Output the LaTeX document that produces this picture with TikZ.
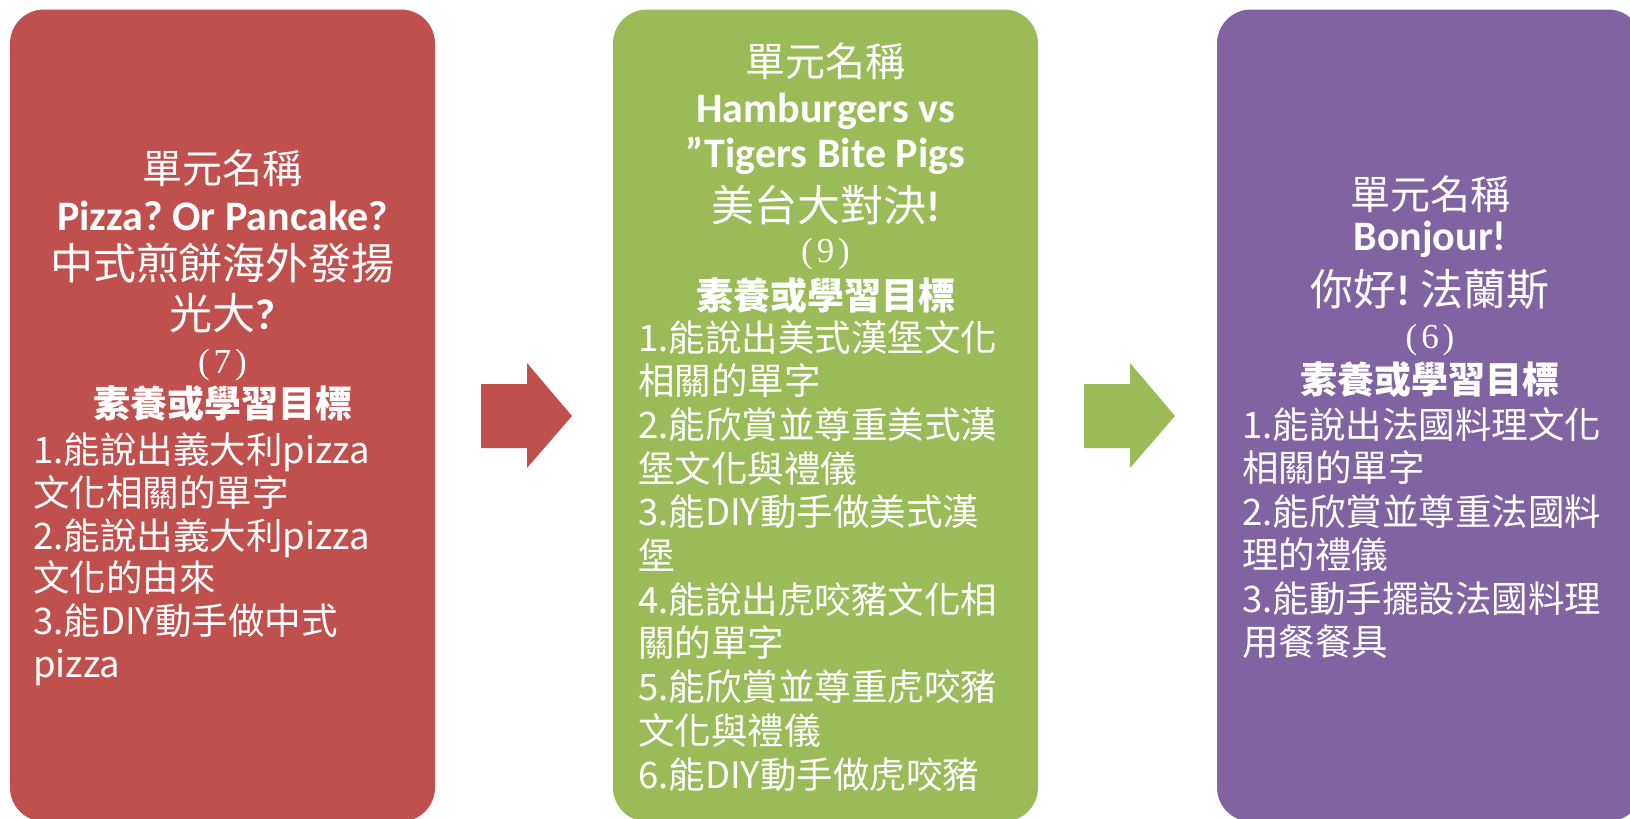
\documentclass[tikz,border=0pt]{standalone}
\usepackage{fontspec}
\newfontfamily\cjk{Noto Sans CJK TC}
\newfontfamily\calfont{Carlito}
\newfontfamily\numfont{Liberation Serif}
\definecolor{cred}{HTML}{C0504D}
\definecolor{cgreen}{HTML}{9BBB59}
\definecolor{cpurple}{HTML}{8064A2}
\frenchspacing
\tikzset{
  box/.style={rectangle, rounded corners=34pt, inner sep=0pt, minimum width=425pt, minimum height=812pt},
  base/.style={text=white, inner sep=0pt, anchor=base},
  head/.style={base, font=\cjk\fontsize{40}{40}\selectfont},
  ttl/.style={base, font=\calfont\bfseries\fontsize{42}{42}\selectfont},
  cjt/.style={base, font=\cjk\fontsize{43}{43}\selectfont},
  num/.style={base, font=\numfont\fontsize{35}{35}\selectfont},
  goal/.style={base, font=\cjk\bfseries\fontsize{37}{37}\selectfont},
  item/.style={text=white, inner sep=0pt, anchor=base west, font=\cjk\fontsize{36.5}{36.5}\selectfont}
}
\newcommand{\qm}[1]{{\calfont\bfseries #1}}
\newcommand{\pn}[1]{(\kern4pt#1\kern4pt)}
\begin{document}
\begin{tikzpicture}[x=1pt,y=-1pt]
\useasboundingbox (0,0) rectangle (1630,819);
\clip (0,0) rectangle (1630,819);
% boxes
\node[box, fill=cred] (b1) at (222.5,415.5) {};
\node[box, fill=cgreen] (b2) at (825.5,415.5) {};
\node[box, fill=cpurple] (b3) at (1429.5,415.5) {};
% arrows
\fill[cred] (481,384) -- (527,384) -- (527,363) -- (572,416) -- (527,468) -- (527,448) -- (481,448) -- cycle;
\fill[cgreen] (1084,384) -- (1130,384) -- (1130,363) -- (1175,416) -- (1130,468) -- (1130,448) -- (1084,448) -- cycle;
% box 1
\node[head] (h1) at (222.5,183) {單元名稱};
\node[ttl] (t1a) at (222.5,230) {Pizza? Or Pancake?};
\node[cjt] (t1b) at (222.5,279) {中式煎餅海外發揚};
\node[cjt] (t1c) at (222.5,329) {光大\qm{?}};
\node[num] (n1) at (222.5,373) {\pn{7}};
\node[goal] (g1) at (222.5,417) {素養或學習目標};
\node[item] (i1a) at (33,463) {1.能說出義大利pizza};
\node[item] (i1b) at (33,506) {文化相關的單字};
\node[item] (i1c) at (33,549) {2.能說出義大利pizza};
\node[item] (i1d) at (33,591) {文化的由來};
\node[item] (i1e) at (33,634) {3.能DIY動手做中式};
\node[item] (i1f) at (33,677) {pizza};
% box 2
\node[head] (h2) at (825.5,76) {單元名稱};
\node[ttl] (t2a) at (825.5,122) {Hamburgers vs};
\node[ttl] (t2b) at (825.5,167) {”Tigers Bite Pigs};
\node[cjt] (t2c) at (825.5,221) {美台大對決\qm{!}};
\node[num] (n2) at (825.5,262) {\pn{9}};
\node[goal] (g2) at (825.5,309) {素養或學習目標};
\node[item] (i2a) at (638,351) {1.能說出美式漢堡文化};
\node[item] (i2b) at (638,394.7) {相關的單字};
\node[item] (i2c) at (638,438.4) {2.能欣賞並尊重美式漢};
\node[item] (i2d) at (638,482.1) {堡文化與禮儀};
\node[item] (i2e) at (638,525.8) {3.能DIY動手做美式漢};
\node[item] (i2f) at (638,569.5) {堡};
\node[item] (i2g) at (638,613.2) {4.能說出虎咬豬文化相};
\node[item] (i2h) at (638,656.9) {關的單字};
\node[item] (i2i) at (638,700.6) {5.能欣賞並尊重虎咬豬};
\node[item] (i2j) at (638,744.3) {文化與禮儀};
\node[item] (i2k) at (638,788) {6.能DIY動手做虎咬豬};
% box 3
\node[head] (h3) at (1430,209) {單元名稱};
\node[ttl] (t3a) at (1430,250) {Bonjour!};
\node[cjt] (t3b) at (1430,305) {你好\qm{!} 法蘭斯};
\node[num] (n3) at (1430,348) {\pn{6}};
\node[goal] (g3) at (1430,393) {素養或學習目標};
\node[item] (i3a) at (1242,438) {1.能說出法國料理文化};
\node[item] (i3b) at (1242,481.5) {相關的單字};
\node[item] (i3c) at (1242,525) {2.能欣賞並尊重法國料};
\node[item] (i3d) at (1242,568.5) {理的禮儀};
\node[item] (i3e) at (1242,612) {3.能動手擺設法國料理};
\node[item] (i3f) at (1242,655.5) {用餐餐具};
\end{tikzpicture}
\end{document}
